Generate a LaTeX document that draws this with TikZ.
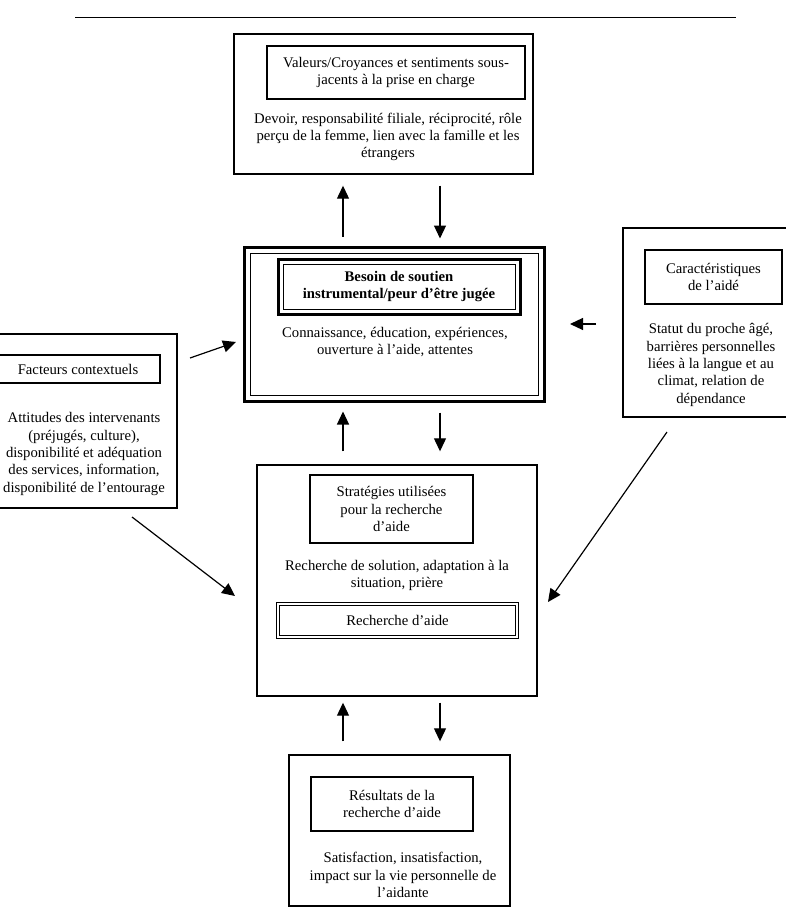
\documentclass[tikz,border=0pt]{standalone}
\usepackage{fontspec}
\setmainfont{Liberation Serif}
\usetikzlibrary{arrows.meta}
\begin{document}
\begin{tikzpicture}[x=1pt,y=-1pt,
  font=\fontsize{14.7}{17.3}\selectfont,
  outerbox/.style={draw, line width=1.4pt, inner sep=0pt},
  labelbox/.style={draw, line width=1.2pt, align=center, inner sep=0pt},
  dblbox/.style={draw, double, double distance=1.8pt, line width=0.8pt, align=center, inner sep=0pt},
  bodytext/.style={align=center, inner sep=0pt},
  arr/.style={line width=1.2pt, -{Triangle[length=13pt,width=12pt]}},
]
\useasboundingbox (0,0) rectangle (786,913);
\clip (0,0) rectangle (786,913);

% top rule
\coordinate (r1) at (75,17.5);
\coordinate (r2) at (736,17.5);
\draw[line width=1.2pt] (r1) -- (r2);

% top box
\node[outerbox, minimum width=299pt, minimum height=140pt] (top) at (383.5,104) {};
\node[labelbox, minimum width=258pt, minimum height=53pt] (topl) at (396,72.5)
  {Valeurs/Croyances et sentiments sous-\\jacents à la prise en charge};
\node[bodytext] (topb) at (388,137)
  {Devoir, responsabilité filiale, réciprocité, rôle\\perçu de la femme, lien avec la famille et les\\étrangers};

% central box
\node[draw, line width=3pt, minimum width=300pt, minimum height=154pt, inner sep=0pt] (mid) at (394,324) {};
\node[draw, line width=0.8pt, minimum width=288pt, minimum height=142pt, inner sep=0pt] (midin) at (394,324) {};
\node[draw, line width=3pt, minimum width=242pt, minimum height=55pt, inner sep=0pt] (bes) at (399,286.5) {};
\node[draw, line width=0.8pt, minimum width=232pt, minimum height=45pt, inner sep=0pt, align=center,
  font=\fontsize{14.7}{17.3}\selectfont\bfseries] (besl) at (399,286.5)
  {Besoin de soutien\\instrumental/peur d’être jugée};
\node[bodytext] (midb) at (395,342)
  {Connaissance, éducation, expériences,\\ouverture à l’aide, attentes};

% left box
\node[outerbox, minimum width=187pt, minimum height=174pt] (left) at (83.5,421) {};
\node[labelbox, minimum width=164pt, minimum height=28pt] (leftl) at (78,369) {Facteurs contextuels};
\node[bodytext] (leftb) at (84,454)
  {Attitudes des intervenants\\(préjugés, culture),\\disponibilité et adéquation\\des services, information,\\disponibilité de l’entourage};

% right box
\node[outerbox, minimum width=177pt, minimum height=189pt] (right) at (711.5,322.5) {};
\node[labelbox, minimum width=137pt, minimum height=54pt] (rightl) at (713.5,277) {Caractéristiques\\de l’aidé};
\node[bodytext] (rightb) at (711,365)
  {Statut du proche âgé,\\barrières personnelles\\liées à la langue et au\\climat, relation de\\dépendance};

% strategies box
\node[outerbox, minimum width=280pt, minimum height=231pt] (strat) at (397,580.5) {};
\node[labelbox, minimum width=163pt, minimum height=68pt] (stratl) at (391.5,509)
  {Stratégies utilisées\\pour la recherche\\d’aide};
\node[bodytext] (stratb) at (397,575.5)
  {Recherche de solution, adaptation à la\\situation, prière};
\node[dblbox, minimum width=239pt, minimum height=33pt] (rech) at (397.5,620.5) {Recherche d’aide};

% results box
\node[outerbox, minimum width=221pt, minimum height=151pt] (res) at (399.5,830.5) {};
\node[labelbox, minimum width=162pt, minimum height=54pt] (resl) at (392,804)
  {Résultats de la\\recherche d’aide};
\node[bodytext] (resb) at (403,875)
  {Satisfaction, insatisfaction,\\impact sur la vie personnelle de\\l’aidante};

% vertical arrows
\coordinate (xL) at (343,0);
\coordinate (xR) at (440,0);
\draw[arr, shorten <=9pt, shorten >=11pt] (mid.north -| xL) -- (top.south -| xL);
\draw[arr, shorten <=11pt, shorten >=7pt] (top.south -| xR) -- (mid.north -| xR);
\draw[arr, shorten <=13pt, shorten >=9pt] (strat.north -| xL) -- (mid.south -| xL);
\draw[arr, shorten <=10pt, shorten >=13pt] (mid.south -| xR) -- (strat.north -| xR);
\draw[arr, shorten <=13pt, shorten >=6pt] (res.north -| xL) -- (strat.south -| xL);
\draw[arr, shorten <=6pt, shorten >=13pt] (strat.south -| xR) -- (res.north -| xR);

% side arrows
\coordinate (lf1) at (190,358);
\coordinate (lf2) at (236,342);
\draw[arr] (lf1) -- (lf2);
\coordinate (rt1) at (596,324);
\coordinate (rt2) at (570,324);
\draw[arr] (rt1) -- (rt2);
\coordinate (ld1) at (132,517);
\coordinate (ld2) at (235,596);
\draw[arr] (ld1) -- (ld2);
\coordinate (rd1) at (667,432);
\coordinate (rd2) at (548,602);
\draw[arr] (rd1) -- (rd2);
\end{tikzpicture}
\end{document}
